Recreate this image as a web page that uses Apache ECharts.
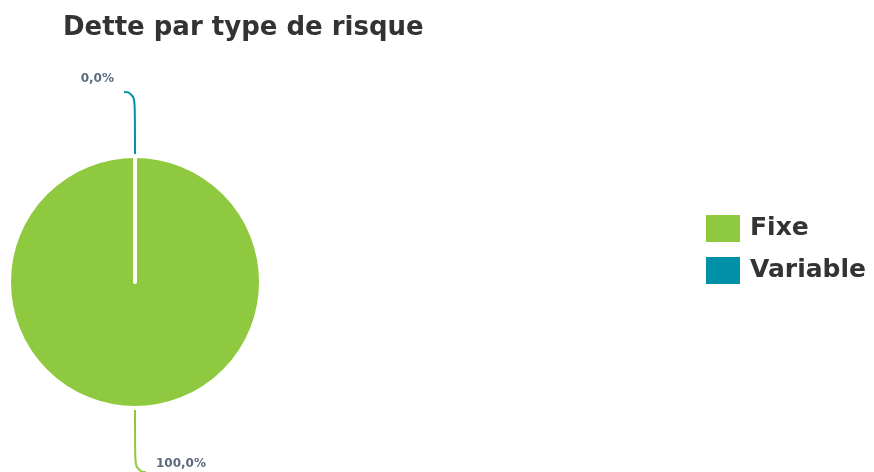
<!DOCTYPE html>
<html><head><meta charset="utf-8">
<script src="https://cdn.jsdelivr.net/npm/echarts@6/dist/echarts.min.js"></script>
<style>html,body{margin:0;padding:0;background:#fff}#c{width:874px;height:472px}</style>
</head><body><div id="c"></div>
<script>
const title = 'Dette par type de risque';
const categories = ['Fixe', 'Variable'];
const values = [100.0, 0.0];
const colors = ['#8FC93F', '#0091A8'];

const chart = echarts.init(document.getElementById('c'));
chart.setOption({
  animation: false,
  title: {
    text: title, left: 58, top: 10,
    textStyle: {fontFamily: 'DejaVu Sans', fontWeight: 'bold', fontSize: 26, color: '#333333'}
  },
  color: colors,
  legend: {
    orient: 'vertical', left: 704, top: 213, padding: 0,
    itemWidth: 36, itemHeight: 29, itemGap: 11,
    icon: 'rect',
    textStyle: {fontFamily: 'DejaVu Sans', fontWeight: 'bold', fontSize: 25, color: '#333333', padding: [0, 0, 0, 4]},
    data: categories
  },
  series: [{
    type: 'pie',
    center: [135, 282],
    radius: 126,
    startAngle: 90.001,
    clockwise: true,
    itemStyle: {borderColor: '#ffffff', borderWidth: 4},
    label: {
      show: true,
      formatter: p => '{v|' + p.value.toFixed(1).replace('.', ',') + '%}\n{' + (p.dataIndex === 1 ? 'eTop' : 'eBot') + '|}',
      rich: {
        v: {fontFamily: 'DejaVu Sans', fontWeight: 'bold', fontSize: 12, color: '#5B6B7E', lineHeight: 16},
        eTop: {fontSize: 12, lineHeight: 27},
        eBot: {fontSize: 12, lineHeight: 16}
      },
      distanceToLabelLine: 10
    },
    labelLine: {show: true, length: 64, length2: 11, smooth: 0.6, lineStyle: {width: 2}},
    data: categories.map((c, i) => ({name: c, value: values[i]}))
  }]
});
</script></body></html>
